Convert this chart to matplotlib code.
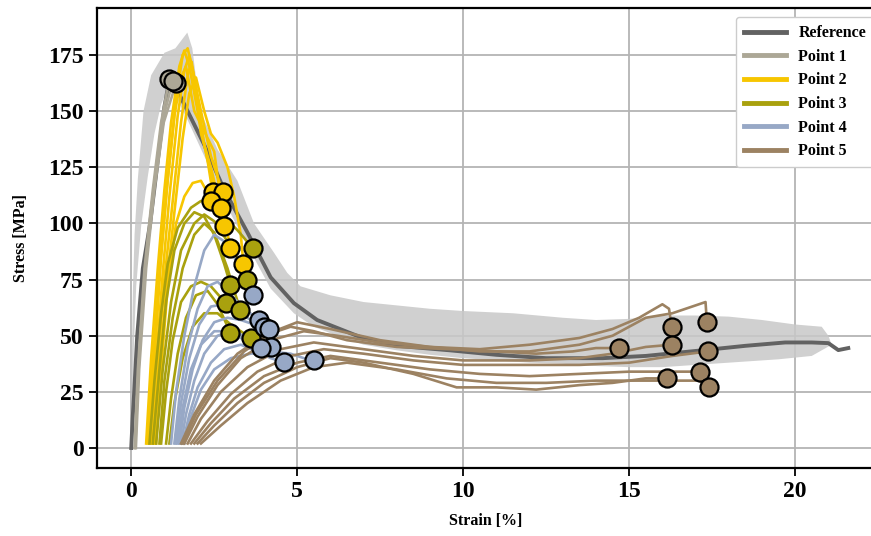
import matplotlib
matplotlib.use("Agg")
import matplotlib.pyplot as plt

# reference curve (mean) and scatter band
ref_x = [0, 0.05, 0.09, 0.18, 0.35, 0.57, 0.8, 1.0, 1.15, 1.3, 1.7, 2.2, 2.8, 3.5, 4.2, 4.9, 5.6,
         6.9, 8.0, 9.6, 11.0, 12.5, 14.2, 15.5, 17.2, 18.5, 19.7, 20.5, 21.0, 21.3, 21.6]
ref_y = [0, 15, 25, 50, 80, 100, 128, 152, 164, 162, 150, 135, 115, 96, 76, 64.5, 57,
         49.4, 45.5, 43.5, 41.5, 40, 40, 41, 43.5, 45.5, 47, 47, 46.7, 43.6, 44.5]

band_x = [0, 0.02, 0.05, 0.1, 0.2, 0.37, 0.6, 1.0, 1.33, 1.69,
          1.84, 2.08, 2.6, 3.2, 3.7, 4.3, 4.7, 5.1, 6, 7, 8, 9, 10, 11.5, 13, 14, 15, 16, 17, 18, 19, 20, 20.8, 21.0, 21.1,
          20.5, 19.5, 18, 17, 16, 15, 14, 13, 12, 11, 10, 9, 8, 7, 6.2, 5.5, 4.9, 4.2, 3.5, 2.8, 2.2, 1.7, 1.3,
          1.1, 0.9, 0.7, 0.5, 0.3, 0.15, 0.08, 0.04]
band_y = [0, 40, 70, 95, 120, 150, 166, 176, 178, 185,
          178, 150, 133, 119, 100, 87, 78, 72, 68, 65, 63.5, 62, 61, 60, 58, 57, 57.5, 59, 59, 58.5, 57, 55, 54, 50, 46,
          41, 39.5, 38, 37, 36, 36, 36.5, 37.5, 38, 39, 40, 41.5, 43.5, 46, 50, 54, 60, 71, 90, 110, 130, 146, 158,
          160, 153, 140, 121, 99, 72, 45, 0]

# Point 1
p1_x = [[0.1, 0.2, 0.4, 0.65, 0.9, 1.15],
        [0.14, 0.24, 0.45, 0.7, 0.98, 1.35],
        [0.12, 0.22, 0.42, 0.68, 0.95, 1.25]]
p1_y = [[0, 35, 80, 115, 145, 164.5],
        [0, 35, 80, 115, 145, 162.5],
        [0, 35, 80, 115, 146, 163.5]]

# Point 2
p2_x = [[0.45, 0.6, 0.8, 1.0, 1.2, 1.45, 1.6, 1.75, 2.0, 2.3, 2.45],
        [0.55, 0.7, 0.9, 1.1, 1.35, 1.55, 1.7, 1.85, 2.1, 2.4, 2.75],
        [0.75, 0.9, 1.1, 1.35, 1.6, 1.85, 2.1, 2.25, 2.39],
        [0.6, 0.75, 0.95, 1.15, 1.4, 1.6, 1.75, 1.9, 2.1, 2.4, 2.69],
        [0.65, 0.8, 1.0, 1.25, 1.5, 1.7, 1.82, 2.0, 2.2, 2.5, 2.78],
        [0.5, 0.65, 0.85, 1.05, 1.3, 1.5, 1.65, 1.9, 2.3, 2.5, 2.7, 2.99],
        [0.7, 0.85, 1.05, 1.3, 1.55, 1.75, 1.95, 2.2, 2.4, 2.6, 2.9, 3.1, 3.3, 3.38]]
p2_y = [[2, 40, 80, 115, 145, 170, 177, 170, 150, 128, 114],
        [2, 40, 85, 120, 155, 175, 178, 168, 150, 130, 114],
        [2, 35, 72, 100, 112, 118, 119, 115, 110],
        [2, 38, 78, 112, 148, 168, 175, 165, 140, 125, 107],
        [2, 36, 75, 110, 145, 166, 172, 155, 135, 115, 99],
        [2, 38, 78, 112, 148, 165, 170, 150, 138, 132, 110, 89],
        [2, 34, 70, 105, 138, 158, 165, 150, 140, 136, 125, 112, 95, 82]]

# Point 3
p3_x = [[0.55, 0.7, 0.9, 1.1, 1.4, 1.8, 2.1, 2.4, 2.8, 3.2, 3.66],
        [0.65, 0.85, 1.05, 1.3, 1.6, 1.9, 2.2, 2.5, 2.8, 2.99],
        [0.75, 0.95, 1.2, 1.5, 1.9, 2.2, 2.5, 2.9, 3.2, 3.5],
        [0.9, 1.05, 1.25, 1.5, 1.8, 2.1, 2.4, 2.84],
        [0.85, 1.0, 1.25, 1.55, 1.9, 2.2, 2.5, 2.9, 3.1, 3.29],
        [1.05, 1.2, 1.4, 1.65, 1.95, 2.3, 2.6, 2.99],
        [1.15, 1.3, 1.55, 1.85, 2.2, 2.6, 3.0, 3.3, 3.6]]
p3_y = [[2, 30, 60, 82, 98, 107, 110, 109, 103, 97, 89],
        [2, 35, 65, 88, 100, 105, 103, 95, 82, 72.6],
        [2, 35, 65, 88, 100, 104, 101, 92, 84, 74.8],
        [2, 25, 48, 65, 72, 74, 72, 64.6],
        [2, 30, 58, 80, 95, 100, 96, 80, 70, 61.5],
        [2, 22, 42, 58, 68, 70, 64, 51.2],
        [2, 20, 40, 54, 60, 60, 55, 52, 49]]

# Point 4
p4_x = [[1.2, 1.35, 1.6, 1.9, 2.2, 2.5, 2.8, 3.1, 3.4, 3.66],
        [1.3, 1.45, 1.7, 2.0, 2.3, 2.6, 2.9, 3.2, 3.5, 3.84],
        [1.35, 1.5, 1.75, 2.05, 2.4, 2.8, 3.2, 3.6, 3.99],
        [1.45, 1.6, 1.85, 2.15, 2.5, 2.9, 3.3, 3.7, 4.14],
        [1.5, 1.65, 1.9, 2.2, 2.6, 3.0, 3.4, 3.8, 4.2],
        [1.4, 1.55, 1.8, 2.1, 2.5, 2.9, 3.3, 3.9],
        [1.55, 1.75, 2.0, 2.4, 2.8, 3.3, 3.8, 4.2, 4.59],
        [1.6, 1.8, 2.1, 2.5, 3.0, 3.6, 4.2, 4.8, 5.2, 5.5]]
p4_y = [[2, 25, 50, 72, 88, 95, 92, 85, 76, 68],
        [2, 22, 45, 62, 72, 74, 70, 65, 61, 57],
        [2, 20, 40, 55, 63, 64, 61, 57, 54],
        [2, 18, 35, 48, 56, 58, 57, 55, 53],
        [2, 15, 30, 42, 50, 52, 50, 47, 45],
        [2, 18, 35, 46, 52, 52, 49, 44.5],
        [2, 15, 27, 38, 44, 46, 43, 40, 38.3],
        [2, 14, 26, 35, 40, 42, 43, 42, 40, 39.2]]

# Point 5
p5_x = [[1.5, 1.9, 2.5, 3.2, 4.0, 4.8, 5.5, 6.5, 8, 9.6, 11, 12.2, 13.3, 14, 14.68],
        [1.6, 2.0, 2.6, 3.3, 4.2, 5.2, 6.2, 7.5, 9, 10.5, 12, 13.5, 14.5, 15.3, 16.0, 16.2, 16.28],
        [1.7, 2.1, 2.7, 3.5, 4.5, 5.5, 7, 8.5, 10, 12, 13.5, 14.5, 15.5, 16.28],
        [2.0, 2.5, 3.2, 4.0, 5.0, 6.0, 7.0, 8.5, 9.8, 11, 12.2, 13.5, 14.5, 15.5, 16.13],
        [1.55, 1.95, 2.6, 3.4, 4.3, 5.0, 6, 7.5, 9, 10.5, 12, 13.5, 14.5, 15.5, 16.3, 17.3, 17.34],
        [1.8, 2.3, 3.0, 3.8, 4.8, 5.8, 7, 8.5, 10, 12, 13.5, 15, 16.3, 17.37],
        [1.9, 2.4, 3.1, 4.0, 5.0, 6.0, 7.5, 9, 10.5, 12, 13.5, 15, 16.5, 17.13],
        [2.1, 2.7, 3.5, 4.5, 5.5, 6.5, 8, 9.5, 11, 12.5, 14, 15.5, 16.5, 17.1, 17.4]]
p5_y = [[2, 15, 30, 42, 50, 54, 52, 48, 45, 44, 43, 42, 43, 44.5, 44.5],
        [2, 14, 28, 40, 48, 52, 50, 47, 45, 44, 46, 49, 53, 58, 64, 62, 54],
        [2, 13, 25, 36, 44, 47, 44, 41, 39, 39, 40, 42, 45, 46],
        [2, 10, 20, 29, 36, 40, 38, 33, 27, 27, 26, 28, 29, 31, 31],
        [2, 15, 30, 43, 52, 56, 53, 48, 45, 43, 43, 46, 50, 58, 60, 65, 56],
        [2, 12, 24, 34, 41, 44, 42, 39, 37, 37, 37, 38, 41, 43],
        [2, 11, 22, 32, 38, 41, 38, 35, 33, 32, 33, 34, 34, 34],
        [2, 10, 20, 30, 36, 38, 35, 31, 29, 29, 30, 30, 30, 30, 27]]

groups = [("Point 1", "#aca796", p1_x, p1_y),
          ("Point 2", "#f7c600", p2_x, p2_y),
          ("Point 3", "#a9a10e", p3_x, p3_y),
          ("Point 4", "#97a8c6", p4_x, p4_y),
          ("Point 5", "#9c8262", p5_x, p5_y)]

plt.rcParams["font.family"] = "Liberation Serif"
plt.rcParams["font.weight"] = "bold"

fig = plt.figure(figsize=(8.71, 5.36), dpi=100)
ax = fig.add_axes([0.1114, 0.1269, 0.893, 0.858])

ax.fill(band_x, band_y, color="#c8c8c8", lw=0, alpha=0.85, zorder=2)
ax.plot(ref_x, ref_y, color="#626262", lw=2.8, label="Reference", zorder=3)

for name, col, xs, ys in groups:
    for i in range(len(xs)):
        ax.plot(xs[i], ys[i], color=col, lw=1.9, zorder=4,
                label=name if i == 0 else None)
for name, col, xs, ys in groups:
    for i in range(len(xs)):
        ax.plot(xs[i][-1], ys[i][-1], "o", ms=13, mfc=col, mec="black",
                mew=1.6, zorder=6)

ax.set_xlim(-1.03, 22.4)
ax.set_ylim(-8.9, 195.9)
ax.set_xticks([0, 5, 10, 15, 20])
ax.set_yticks([0, 25, 50, 75, 100, 125, 150, 175])
ax.grid(True, color="#b4b4b4", lw=1.3, zorder=0)
ax.set_axisbelow(True)
ax.spines["right"].set_visible(False)
for s in ["left", "top", "bottom"]:
    ax.spines[s].set_linewidth(1.6)
ax.tick_params(labelsize=17, width=1.3, length=6)
for lab in ax.get_xticklabels() + ax.get_yticklabels():
    lab.set_fontweight("bold")
ax.set_xlabel("Strain [%]", fontsize=11.5, fontweight="bold", labelpad=8)
ax.set_ylabel("Stress [MPa]", fontsize=11.5, fontweight="bold", labelpad=14)

leg = ax.legend(loc="upper left", bbox_to_anchor=(0.845, 0.968),
                bbox_transform=fig.transFigure, borderaxespad=0,
                prop={"weight": "bold", "size": 11.5}, handlelength=2.6,
                handletextpad=0.8, labelspacing=0.48, borderpad=0.5,
                framealpha=1)
for h in leg.get_lines():
    h.set_linewidth(3.5)

fig.savefig("out.png", dpi=100)
